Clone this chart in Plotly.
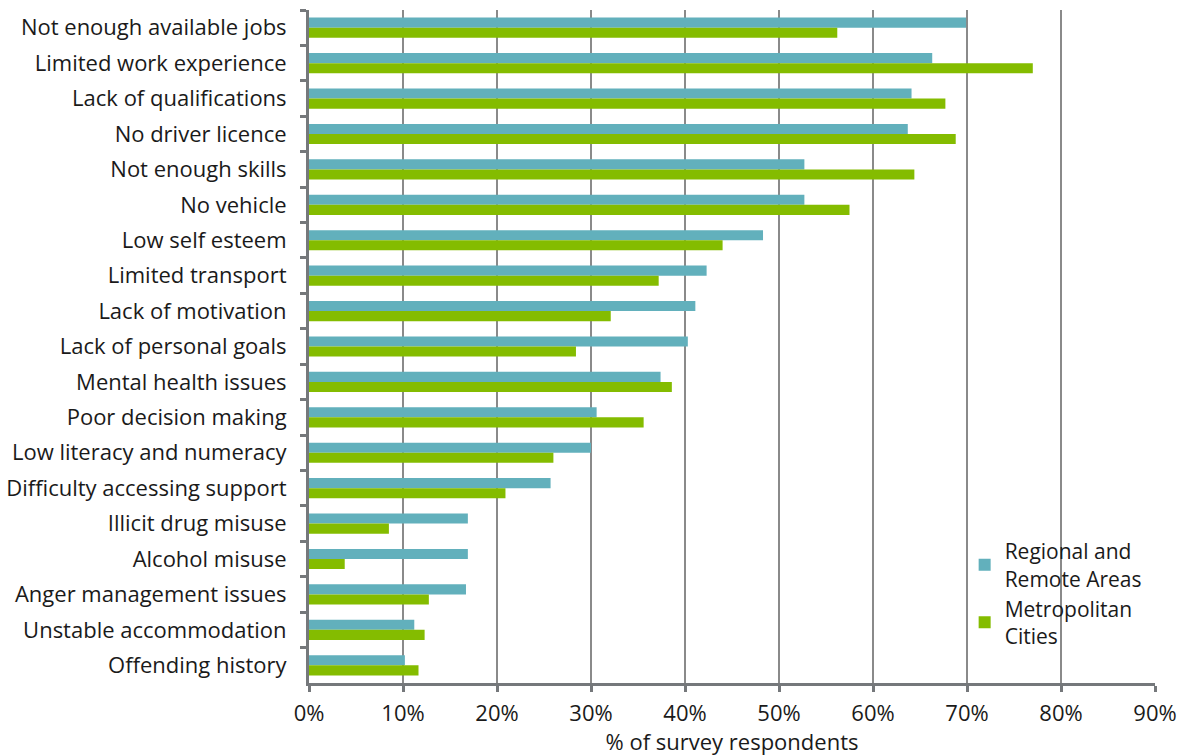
import plotly.graph_objects as go

# Barriers to employment, share of survey respondents (%)
categories = [
    "Not enough available jobs",
    "Limited work experience",
    "Lack of qualifications",
    "No driver licence",
    "Not enough skills",
    "No vehicle",
    "Low self esteem",
    "Limited transport",
    "Lack of motivation",
    "Lack of personal goals",
    "Mental health issues",
    "Poor decision making",
    "Low literacy and numeracy",
    "Difficulty accessing support",
    "Illicit drug misuse",
    "Alcohol misuse",
    "Anger management issues",
    "Unstable accommodation",
    "Offending history",
]
regional = [69.9, 66.3, 64.1, 63.7, 52.7, 52.7, 48.3, 42.3, 41.1, 40.3,
            37.4, 30.6, 30.0, 25.7, 16.9, 16.9, 16.7, 11.2, 10.2]
metro = [56.2, 77.0, 67.7, 68.8, 64.4, 57.5, 44.0, 37.2, 32.1, 28.4,
         38.6, 35.6, 26.0, 20.9, 8.5, 3.8, 12.75, 12.3, 11.65]
x_ticks = [0, 10, 20, 30, 40, 50, 60, 70, 80, 90]
x_tick_labels = [f"{v}%" for v in x_ticks]

TEAL = "#62b0bc"
GREEN = "#84bc00"
AXIS = "#75787b"
GRID = "#8a8a8a"
FONT = "Open Sans"

fig = go.Figure()
fig.add_trace(go.Bar(
    y=categories, x=regional, orientation="h",
    name="Regional and<br>Remote Areas",
    marker=dict(color=TEAL, line=dict(width=0)),
))
fig.add_trace(go.Bar(
    y=categories, x=metro, orientation="h",
    name="Metropolitan<br>Cities",
    marker=dict(color=GREEN, line=dict(width=0)),
))

fig.update_layout(
    width=1187, height=756,
    margin=dict(l=309, r=32, t=10, b=73, autoexpand=False),
    paper_bgcolor="white", plot_bgcolor="white",
    barmode="group", bargap=0.43, bargroupgap=0.0,
    font=dict(family=FONT, size=22, color="#1a1a1a"),
    legend=dict(
        x=0.775, y=0.226, xanchor="left", yanchor="top",
        bgcolor="rgba(0,0,0,0)", font=dict(size=21),
        itemwidth=30, tracegroupgap=9,
    ),
    showlegend=True,
)
fig.update_xaxes(
    range=[0, 90], tickvals=x_ticks, ticktext=x_tick_labels,
    showgrid=True, gridcolor=GRID, gridwidth=1.5,
    showline=True, linecolor=AXIS, linewidth=3,
    ticks="outside", ticklen=6, tickwidth=3, tickcolor=AXIS,
    tickfont=dict(size=22, family=FONT), ticklabelstandoff=3,
    title=dict(text="% of survey respondents", font=dict(size=22, family=FONT), standoff=12),
    zeroline=False, automargin=False,
)
fig.update_yaxes(
    categoryorder="array", categoryarray=categories, autorange="reversed",
    showgrid=False, showline=True, linecolor=AXIS, linewidth=3,
    ticks="outside", tickson="boundaries", ticklen=6, tickwidth=3, tickcolor=AXIS,
    tickfont=dict(size=22, family=FONT), ticklabelstandoff=15,
    automargin=False,
)

fig.write_html("out.html")
